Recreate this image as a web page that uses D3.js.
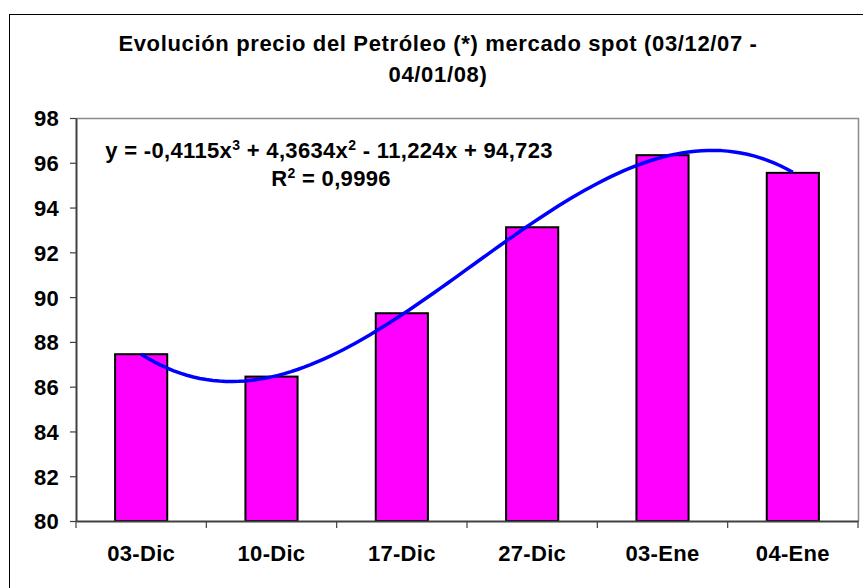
<!DOCTYPE html>
<html>
<head>
<meta charset="utf-8">
<script src="https://cdn.jsdelivr.net/npm/d3@7"></script>
<style>
  html, body { margin: 0; padding: 0; background: #fff; }
  svg { display: block; }
  text { font-family: "Liberation Sans", Arial, sans-serif; font-weight: bold; fill: #000; }
</style>
</head>
<body>
<svg id="chart" width="863" height="588"></svg>
<script>
// Spot oil price, Dec 2007 - Jan 2008
const categories = ["03-Dic", "10-Dic", "17-Dic", "27-Dic", "03-Ene", "04-Ene"];
const prices = [87.45, 86.45, 89.28, 93.12, 96.34, 95.55];
const yTicks = [80, 82, 84, 86, 88, 90, 92, 94, 96, 98];
const titleLines = ["Evolución precio del Petróleo (*) mercado spot (03/12/07 -", "04/01/08)"];
// Polynomial trendline (order 3) as reported: y = a3 x^3 + a2 x^2 + a1 x + a0
const trendCoef = [94.723, -11.224, 4.3634, -0.4115];
const trendR2 = "0,9996";

const svg = d3.select("#chart");
const plot = { left: 76, top: 118, right: 858, bottom: 521 };

// Outer chart frame
svg.append("rect")
  .attr("x", 9.5).attr("y", 14.5).attr("width", 870).attr("height", 590)
  .attr("fill", "#fff").attr("stroke", "#000").attr("stroke-width", 1);

// Title
const title = svg.append("text").attr("text-anchor", "middle").style("font-size", "22px").style("letter-spacing", "0.65px");
titleLines.forEach((t, i) => {
  title.append("tspan").attr("x", 438).attr("y", 51 + i * 31).text(t);
});

const x = d3.scaleBand().domain(categories).range([plot.left, plot.right]);
const y = d3.scaleLinear().domain([80, 98]).range([plot.bottom, plot.top]);
const xIdx = d3.scaleLinear().domain([1, categories.length])
  .range([x(categories[0]) + x.bandwidth() / 2, x(categories[categories.length - 1]) + x.bandwidth() / 2]);

// Plot area border (top and right)
svg.append("path")
  .attr("d", `M${plot.left},${plot.top + 0.5}H${plot.right + 0.5}V${plot.bottom}`)
  .attr("fill", "none").attr("stroke", "#8c8c8c").attr("stroke-width", 1.5);

// Bars (gap width 150%)
const barW = x.bandwidth() / 2.5;
svg.append("g").selectAll("rect").data(prices).join("rect")
  .attr("x", (d, i) => x(categories[i]) + (x.bandwidth() - barW) / 2)
  .attr("y", d => y(d))
  .attr("width", barW)
  .attr("height", d => y(80) - y(d))
  .attr("fill", "#ff00ff").attr("stroke", "#000").attr("stroke-width", 2);

// Y axis
const yAxis = svg.append("g").attr("transform", `translate(${plot.left},0)`)
  .call(d3.axisLeft(y).tickValues(yTicks).tickFormat(d3.format("d")).tickSize(6).tickPadding(11).tickSizeOuter(0));
yAxis.select(".domain").attr("stroke", "#404040").attr("stroke-width", 2);
yAxis.selectAll(".tick line").attr("stroke", "#404040").attr("stroke-width", 1.2);
yAxis.selectAll("text").style("font-size", "22px").style("letter-spacing", "0.3px").attr("dy", "0.36em");

// X axis: labels at category centers, ticks at category boundaries
const xAxis = svg.append("g").attr("transform", `translate(0,${plot.bottom})`)
  .call(d3.axisBottom(x).tickSize(0).tickPadding(24));
xAxis.select(".domain").attr("stroke", "#404040").attr("stroke-width", 2);
xAxis.selectAll("text").style("font-size", "22px").style("letter-spacing", "0.3px");
const bounds = d3.range(categories.length + 1).map(i => i === categories.length ? x.range()[1] : x(categories[i]));
xAxis.append("g").selectAll("line").data(bounds).join("line")
  .attr("x1", d => d).attr("x2", d => d).attr("y1", 0).attr("y2", 7)
  .attr("stroke", "#404040").attr("stroke-width", 1.2);

// Trendline
const poly = t => trendCoef.reduce((s, c, k) => s + c * Math.pow(t, k), 0);
const ts = d3.range(1, categories.length + 0.001, 0.05);
svg.append("path")
  .datum(ts)
  .attr("d", d3.line().x(t => xIdx(t)).y(t => y(poly(t))))
  .attr("fill", "none").attr("stroke", "#0000ff").attr("stroke-width", 3.5).attr("stroke-linejoin", "round");

// Trendline equation
const fmt = v => Math.abs(v).toString().replace(".", ",");
const eq = svg.append("text").attr("text-anchor", "middle").style("font-size", "22px").style("letter-spacing", "0.33px");
const l1 = eq.append("tspan").attr("x", 329).attr("y", 158);
l1.append("tspan").text(`y = ${trendCoef[3] < 0 ? "-" : ""}${fmt(trendCoef[3])}x`);
l1.append("tspan").attr("dy", -8).style("font-size", "14px").text("3");
l1.append("tspan").attr("dy", 8).text(` ${trendCoef[2] < 0 ? "-" : "+"} ${fmt(trendCoef[2])}x`);
l1.append("tspan").attr("dy", -8).style("font-size", "14px").text("2");
l1.append("tspan").attr("dy", 8).text(` ${trendCoef[1] < 0 ? "-" : "+"} ${fmt(trendCoef[1])}x ${trendCoef[0] < 0 ? "-" : "+"} ${fmt(trendCoef[0])}`);
const l2 = eq.append("tspan").attr("x", 331).attr("y", 186);
l2.append("tspan").text("R");
l2.append("tspan").attr("dy", -8).style("font-size", "14px").text("2");
l2.append("tspan").attr("dy", 8).text(` = ${trendR2}`);
</script>
</body>
</html>
